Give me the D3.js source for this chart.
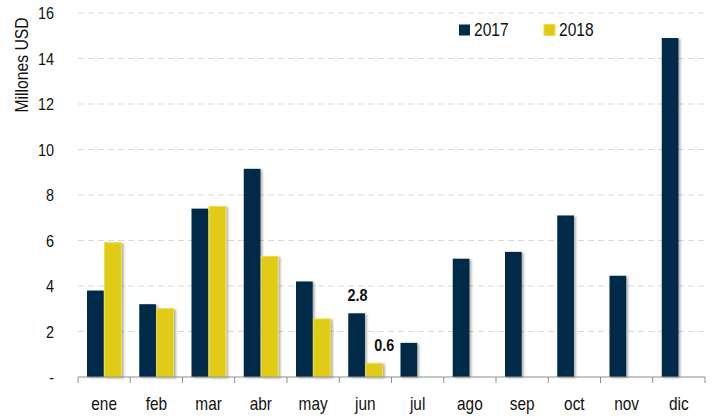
<!DOCTYPE html>
<html>
<head>
<meta charset="utf-8">
<script src="https://d3js.org/d3.v7.min.js"></script>
<style>
  body { margin: 0; background: #fff; }
  svg text { font-family: "Liberation Sans", Arial, sans-serif; fill: #111; }
</style>
</head>
<body>
<script>
// Data
const months = ["ene","feb","mar","abr","may","jun","jul","ago","sep","oct","nov","dic"];
const values2017 = [3.8, 3.2, 7.4, 9.15, 4.2, 2.8, 1.5, 5.2, 5.5, 7.1, 4.45, 14.9];
const values2018 = [5.9, 3.0, 7.5, 5.3, 2.55, 0.6];
const yTicks = [0, 2, 4, 6, 8, 10, 12, 14, 16];
const seriesNames = ["2017", "2018"];
const seriesColors = ["#022b46", "#e0cb12"];

const width = 715, height = 416;
const margin = {top: 13, right: 10, bottom: 39, left: 78};

const svg = d3.select("body").append("svg")
    .attr("width", width)
    .attr("height", height);

// narrow look of the original font: squeeze text horizontally
function squeeze(xPos, yPos, sx) {
    return "translate(" + xPos + "," + yPos + ") scale(" + sx + ",1)";
}

// soft shadow under the bars
const defs = svg.append("defs");
const shadow = defs.append("filter").attr("id", "shadow")
    .attr("x", "-30%").attr("y", "-10%").attr("width", "160%").attr("height", "130%");
shadow.append("feDropShadow")
    .attr("dx", 2).attr("dy", 1).attr("stdDeviation", 1.2)
    .attr("flood-color", "#000").attr("flood-opacity", 0.3);

const x = d3.scaleBand()
    .domain(months)
    .range([margin.left, width - margin.right])
    .paddingInner(0)
    .paddingOuter(0);

const xSub = d3.scaleBand()
    .domain(seriesNames)
    .range([9, x.bandwidth() - 9])
    .paddingInner(0.05);

const y = d3.scaleLinear()
    .domain([0, 16])
    .range([height - margin.bottom, margin.top]);

// dashed gridlines
svg.append("g")
    .selectAll("line")
    .data(yTicks.filter(d => d > 0))
    .enter().append("line")
    .attr("x1", margin.left)
    .attr("x2", width - margin.right)
    .attr("y1", d => y(d))
    .attr("y2", d => y(d))
    .attr("stroke", "#d9d9d9")
    .attr("stroke-width", 1.2)
    .attr("stroke-dasharray", "6,4");

// y tick labels
svg.append("g")
    .selectAll("text")
    .data(yTicks)
    .enter().append("text")
    .attr("transform", d => squeeze(54, y(d), 0.85))
    .attr("dy", "0.36em")
    .attr("text-anchor", "end")
    .style("font-size", "17px")
    .text(d => d === 0 ? "-" : d);

// y axis title
svg.append("text")
    .attr("transform", "translate(28,65) rotate(-90) scale(0.85,1)")
    .attr("text-anchor", "middle")
    .style("font-size", "18.5px")
    .text("Millones USD");

// bars
const series = [values2017, values2018];
series.forEach(function(vals, si) {
    svg.append("g")
        .selectAll("rect")
        .data(vals)
        .enter().append("rect")
        .attr("x", (d, i) => x(months[i]) + xSub(seriesNames[si]))
        .attr("y", d => y(d))
        .attr("width", xSub.bandwidth())
        .attr("height", d => y(0) - y(d))
        .attr("fill", seriesColors[si])
        .attr("stroke", si === 1 ? "#ecdc4a" : "none")
        .attr("stroke-width", si === 1 ? 1 : 0)
        .attr("filter", "url(#shadow)");
});

// value labels for jun
const junIdx = months.indexOf("jun");
const labels = [
    {name: "2017", value: values2017[junIdx], dx: 1},
    {name: "2018", value: values2018[junIdx], dx: 10}
];
svg.append("g")
    .selectAll("text")
    .data(labels)
    .enter().append("text")
    .attr("transform", d => squeeze(x("jun") + xSub(d.name) + xSub.bandwidth() / 2 + d.dx, y(d.value) - 12.5, 0.9))
    .attr("text-anchor", "middle")
    .style("font-size", "16px")
    .style("font-weight", "bold")
    .text(d => d.value.toFixed(1));

// x axis
const axisY = y(0);
const axis = svg.append("g").attr("stroke", "#8c8c8c").attr("stroke-width", 1);
axis.append("line")
    .attr("x1", margin.left).attr("x2", width - margin.right)
    .attr("y1", axisY).attr("y2", axisY);
axis.selectAll(".tick")
    .data(months.concat(["end"]))
    .enter().append("line")
    .attr("x1", (d, i) => i < months.length ? x(d) : x.range()[1])
    .attr("x2", (d, i) => i < months.length ? x(d) : x.range()[1])
    .attr("y1", axisY)
    .attr("y2", axisY + 6);

svg.append("g")
    .selectAll("text")
    .data(months)
    .enter().append("text")
    .attr("transform", d => squeeze(x(d) + x.bandwidth() / 2, 409.5, 0.88))
    .attr("text-anchor", "middle")
    .style("font-size", "17.5px")
    .text(d => d);

// legend
const legend = svg.append("g");
const legendX = [459, 544];
seriesNames.forEach(function(name, i) {
    legend.append("rect")
        .attr("x", legendX[i])
        .attr("y", 24.5)
        .attr("width", 11)
        .attr("height", 11)
        .attr("fill", seriesColors[i])
        .attr("stroke", i === 1 ? "#ecdc4a" : "none");
    legend.append("text")
        .attr("transform", squeeze(legendX[i] + 15, 35.5, 0.82))
        .style("font-size", "19px")
        .text(name);
});
</script>
</body>
</html>
